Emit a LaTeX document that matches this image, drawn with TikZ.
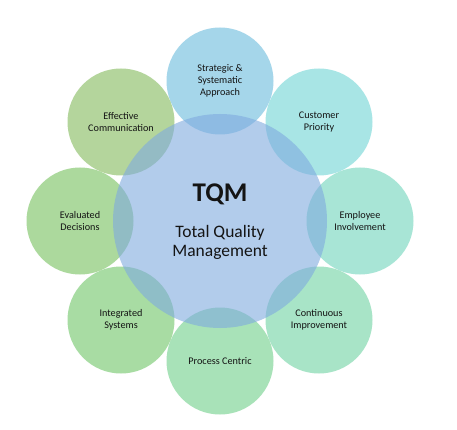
\documentclass[tikz,border=0pt]{standalone}
\usepackage{fontspec}
\setmainfont{Carlito}
\definecolor{cStr}{rgb}{.412,.732,.863}
\definecolor{cCus}{rgb}{.431,.837,.837}
\definecolor{cEmp}{rgb}{.431,.837,.732}
\definecolor{cCon}{rgb}{.431,.824,.641}
\definecolor{cPro}{rgb}{.431,.810,.536}
\definecolor{cInt}{rgb}{.431,.771,.405}
\definecolor{cEva}{rgb}{.457,.758,.366}
\definecolor{cEff}{rgb}{.510,.725,.353}
\definecolor{cCen}{rgb}{.497,.667,.875}
\definecolor{txt}{HTML}{141414}
\begin{document}
\begin{tikzpicture}[x=1pt,y=-1pt,
  outer/.style={circle,minimum size=107pt,inner sep=0pt,fill opacity=0.6,text opacity=1,
    text=txt,align=center,font=\fontsize{10.2}{11.8}\selectfont},
  center/.style={circle,minimum size=214pt,inner sep=0pt,fill=cCen,fill opacity=0.6}]
\useasboundingbox[fill=white] (0,0) rectangle (457,430);
\node[outer,fill=cStr] (str) at (220,81) {Strategic \&\\Systematic\\Approach};
\node[outer,fill=cCus] (cus) at (319,122) {Customer\\Priority};
\node[outer,fill=cEmp] (emp) at (360,221) {Employee\\Involvement};
\node[outer,fill=cCon] (con) at (319,320) {Continuous\\Improvement};
\node[outer,fill=cPro] (pro) at (220,361) {Process Centric};
\node[outer,fill=cInt] (int) at (121,320) {Integrated\\Systems};
\node[outer,fill=cEva] (eva) at (80,221) {Evaluated\\Decisions};
\node[outer,fill=cEff] (eff) at (121,122) {Effective\\Communication};
\node[center] (cen) at (220,221) {};
\node[text=txt,font=\fontsize{27}{30}\selectfont\bfseries] (tqm) at (220,194) {TQM};
\node[text=txt,align=center,font=\fontsize{17.5}{19}\selectfont] (tqmt) at (220,242) {Total Quality\\Management};
\end{tikzpicture}
\end{document}
